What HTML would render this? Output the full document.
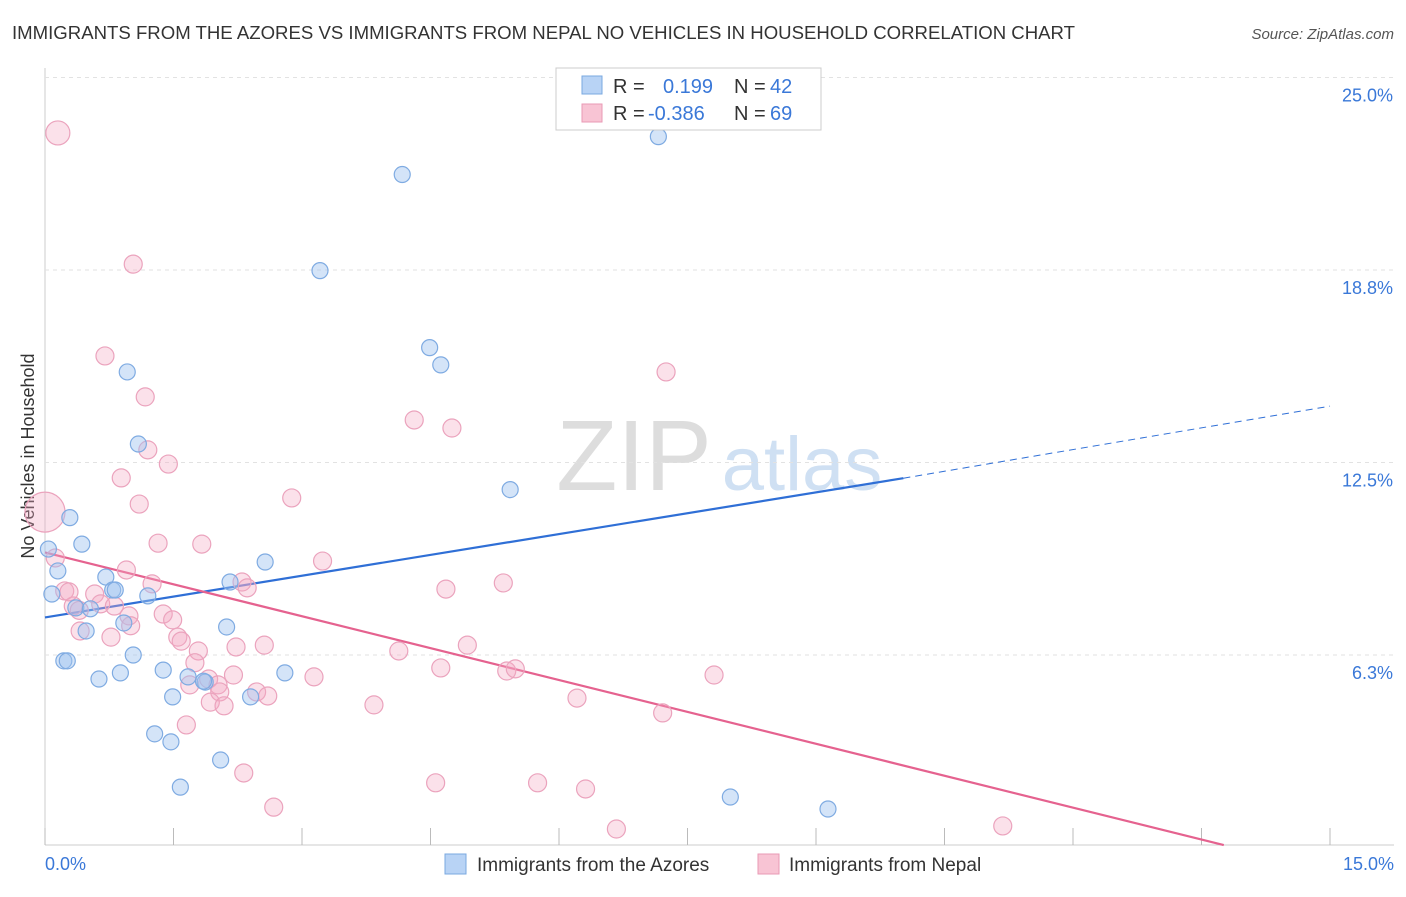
<!DOCTYPE html>
<html><head><meta charset="utf-8"><style>
body{margin:0;background:#fff;font-family:"Liberation Sans",sans-serif}
svg text{font-family:"Liberation Sans",sans-serif}
</style></head><body>
<svg id="chart" width="1406" height="892" viewBox="0 0 1406 892" xmlns="http://www.w3.org/2000/svg">
<text x="12" y="39" font-size="18" fill="#333" textLength="1063" lengthAdjust="spacingAndGlyphs">IMMIGRANTS FROM THE AZORES VS IMMIGRANTS FROM NEPAL NO VEHICLES IN HOUSEHOLD CORRELATION CHART</text>
<text x="1394" y="39" font-size="15" fill="#555" text-anchor="end" font-style="italic">Source: ZipAtlas.com</text>
<text transform="translate(34,456) rotate(-90)" font-size="18" fill="#333" text-anchor="middle">No Vehicles in Household</text>
<g>
<text x="634" y="490" font-size="100" fill="#ddd" text-anchor="middle" font-family="Liberation Serif">ZIP</text>
<text x="802" y="490" font-size="76" fill="#cfe0f3" text-anchor="middle">atlas</text>
</g>
<g id="grid"></g>
<g id="lines"></g>
<g id="pts"></g>
<g>
<rect x="556" y="68" width="265" height="62" fill="#fff" stroke="#ccc"/>
<rect x="582" y="76" width="20" height="18" fill="#b8d3f5" stroke="#7aa8e0"/>
<rect x="582" y="104" width="20" height="18" fill="#f8c4d4" stroke="#e99ab5"/>
<text x="613" y="93" font-size="20" fill="#333">R =</text>
<text x="663" y="93" font-size="20" fill="#3a78d8">0.199</text>
<text x="734" y="93" font-size="20" fill="#333">N =</text>
<text x="770" y="93" font-size="20" fill="#3a78d8">42</text>
<text x="613" y="120" font-size="20" fill="#333">R =</text>
<text x="648" y="120" font-size="20" fill="#3a78d8">-0.386</text>
<text x="734" y="120" font-size="20" fill="#333">N =</text>
<text x="770" y="120" font-size="20" fill="#3a78d8">69</text>
</g>
<g>
<rect x="445" y="854" width="21" height="20" fill="#b8d3f5" stroke="#7aa8e0"/>
<text x="477" y="871" font-size="19" fill="#333">Immigrants from the Azores</text>
<rect x="758" y="854" width="21" height="20" fill="#f8c4d4" stroke="#e99ab5"/>
<text x="789" y="871" font-size="19" fill="#333">Immigrants from Nepal</text>
</g>
</svg>
<script>
const yTicks=[6.25,12.5,18.75,25];
const yTickLabels=["6.3%","12.5%","18.8%","25.0%"];
const xTickCount=10;
const xEndLabels=["0.0%","15.0%"];
const blueX=[7.16,4.17,3.21,4.49,4.62,0.96,1.09,5.43,0.29,0.43,0.04,0.15,2.57,0.71,0.79,2.16,1.20,0.08,0.36,0.53,0.48,0.92,2.12,1.03,0.22,0.26,1.38,0.88,2.80,0.63,1.67,1.87,1.49,2.40,1.28,1.47,2.05,1.58,8.00,9.14,0.82,1.85];
const blueY=[23.08,21.85,18.73,16.23,15.67,15.44,13.10,11.62,10.71,9.85,9.69,8.98,9.27,8.78,8.36,8.62,8.17,8.23,7.78,7.75,7.03,7.29,7.16,6.25,6.06,6.06,5.76,5.67,5.67,5.47,5.54,5.37,4.89,4.89,3.69,3.43,2.84,1.96,1.64,1.25,8.36,5.40];
const pinkX=[0.15,1.03,0.70,1.17,7.25,4.31,4.75,1.20,1.44,0.89,1.10,2.88,0.0,1.32,1.83,3.24,0.12,0.95,1.25,2.30,2.36,4.68,5.35,0.23,0.58,0.33,0.65,0.81,0.98,1.38,1.49,0.41,0.77,1.55,1.59,2.23,2.56,4.93,4.13,1.79,4.62,5.39,5.49,7.81,3.14,1.91,2.02,1.69,2.47,2.60,2.04,1.93,2.09,3.84,6.21,7.21,1.65,2.32,4.56,5.75,6.31,2.67,6.67,11.18,0.28,0.40,1.00,1.75,2.20];
const pinkY=[23.20,18.94,15.96,14.63,15.44,13.88,13.62,12.91,12.45,12.00,11.15,11.35,10.89,9.88,9.85,9.30,9.40,9.01,8.56,8.62,8.43,8.39,8.59,8.33,8.23,7.84,7.91,7.84,7.52,7.58,7.39,7.03,6.83,6.83,6.70,6.51,6.57,6.57,6.38,6.38,5.83,5.73,5.80,5.60,5.54,5.47,5.28,5.28,5.05,4.92,5.05,4.72,4.60,4.63,4.85,4.37,3.98,2.42,2.10,2.10,1.90,1.31,0.60,0.70,8.30,7.70,7.20,6.00,5.60];
const pinkR=[12,9,9,9,9,9,9,9,9,9,9,9,20,9,9,9,9,9,9,9,9,9,9,9,9,9,9,9,9,9,9,9,9,9,9,9,9,9,9,9,9,9,9,9,9,9,9,9,9,9,9,9,9,9,9,9,9,9,9,9,9,9,9,9,9,9,9,9,9];
const blueLine=[7.47,11.99,14.33];
const pinkLine=[9.58,13.76];
const X=v=>45+v*(1285/15);
const Y=v=>847.5-v*30.8;
const NS="http://www.w3.org/2000/svg";
function mk(tag,attrs,parent){const e=document.createElementNS(NS,tag);for(const k in attrs)e.setAttribute(k,attrs[k]);parent.appendChild(e);return e;}
const grid=document.getElementById('grid');
mk('line',{x1:45,y1:68,x2:45,y2:845,stroke:'#ccc'},grid);
mk('line',{x1:45,y1:845,x2:1394,y2:845,stroke:'#ccc'},grid);
yTicks.forEach((t,i)=>{
  const l=mk('line',{x1:45,y1:Y(t),x2:1394,y2:Y(t),stroke:'#e2e2e2','stroke-dasharray':'4,4'},grid);
  
  
  const tx=mk('text',{x:1393,y:Y(t)+24,'font-size':18,fill:'#3a78d8','text-anchor':'end'},grid);
  tx.textContent=yTickLabels[i];
  
  
});
for(let i=0;i<=xTickCount;i++){
  const v=15*i/xTickCount;
  const l=mk('line',{x1:X(v),y1:828,x2:X(v),y2:845,stroke:'#bbb'},grid);
  
  
}
const xl0=mk('text',{x:45,y:870,'font-size':18,fill:'#3a78d8'},grid);xl0.textContent=xEndLabels[0];


const xl1=mk('text',{x:1394,y:870,'font-size':18,fill:'#3a78d8','text-anchor':'end'},grid);xl1.textContent=xEndLabels[1];


const pts=document.getElementById('pts');
pinkX.forEach((x,i)=>{
  const c=mk('circle',{cx:X(x),cy:Y(pinkY[i]),r:pinkR[i],fill:'rgba(244,170,195,0.35)',stroke:'#eba3bd','stroke-width':1.2},pts);
  
  
});
blueX.forEach((x,i)=>{
  const c=mk('circle',{cx:X(x),cy:Y(blueY[i]),r:8,fill:'rgba(160,196,240,0.45)',stroke:'#7fabe2','stroke-width':1.2},pts);
  
  
});
const lines=document.getElementById('lines');
const b1=mk('line',{x1:X(0),y1:Y(blueLine[0]),x2:X(10.02),y2:Y(blueLine[1]),stroke:'#2f6fd6','stroke-width':2.2},lines);


const b2=mk('line',{x1:X(10.02),y1:Y(blueLine[1]),x2:X(15),y2:Y(blueLine[2]),stroke:'#2f6fd6','stroke-width':1,'stroke-dasharray':'7,5'},lines);


const p1=mk('line',{x1:X(0),y1:Y(pinkLine[0]),x2:X(pinkLine[1]),y2:Y(0.08),stroke:'#e5628f','stroke-width':2.2},lines);


</script>
</body></html>
